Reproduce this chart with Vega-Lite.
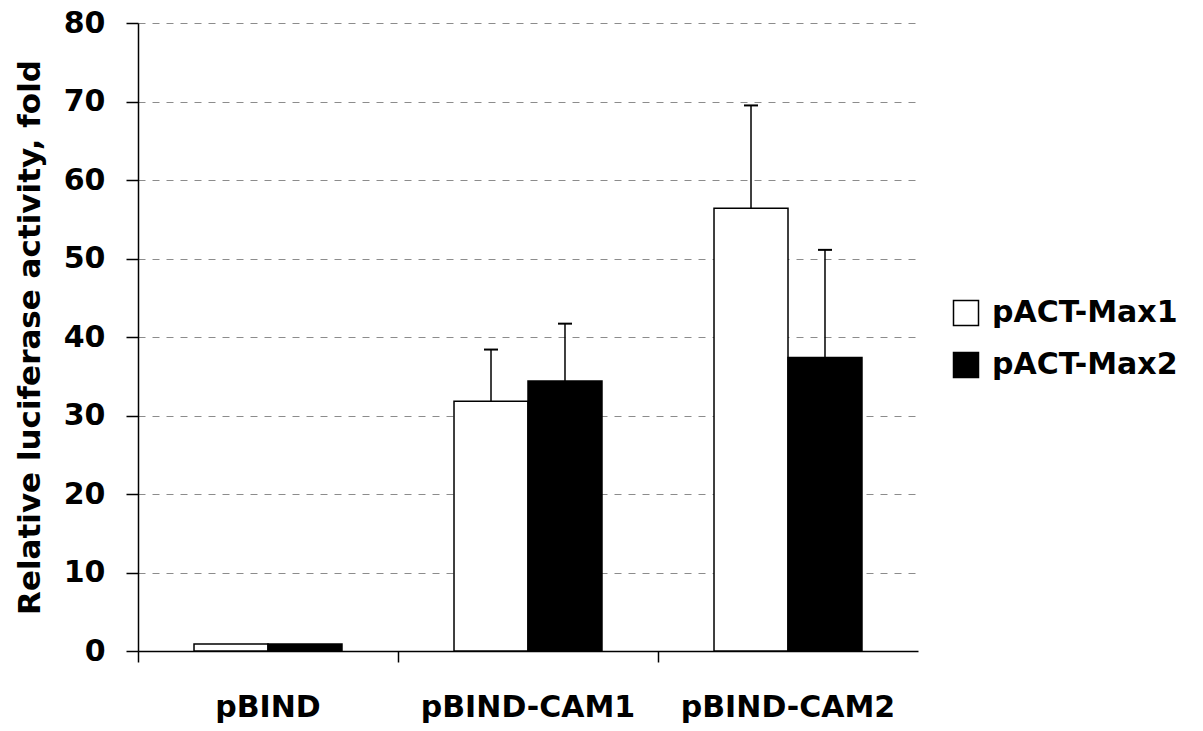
{
  "$schema": "https://vega.github.io/schema/vega-lite/v6.json",
  "width": 780,
  "height": 628,
  "autosize": "none",
  "padding": {"left": 138, "top": 23, "right": 285, "bottom": 80},
  "background": "white",
  "config": {
    "font": "DejaVu Sans",
    "view": {"stroke": null},
    "axis": {
      "domainColor": "black",
      "domainWidth": 1.5,
      "tickColor": "black",
      "tickWidth": 1.5,
      "labelColor": "black",
      "titleColor": "black",
      "labelFont": "DejaVu Sans",
      "titleFont": "DejaVu Sans",
      "labelFontWeight": "bold",
      "titleFontWeight": "bold",
      "labelFontSize": 30,
      "titleFontSize": 31,
      "labelLimit": 0
    }
  },
  "data": {
    "values": [
      {"construct": "pBIND", "series": "pACT-Max1", "value": 0.9, "upper": null},
      {"construct": "pBIND", "series": "pACT-Max2", "value": 0.9, "upper": null},
      {"construct": "pBIND-CAM1", "series": "pACT-Max1", "value": 31.8, "upper": 38.4},
      {"construct": "pBIND-CAM1", "series": "pACT-Max2", "value": 34.4, "upper": 41.7},
      {"construct": "pBIND-CAM2", "series": "pACT-Max1", "value": 56.4, "upper": 69.5},
      {"construct": "pBIND-CAM2", "series": "pACT-Max2", "value": 37.4, "upper": 51.1}
    ]
  },
  "encoding": {
    "x": {
      "field": "construct",
      "type": "nominal",
      "sort": ["pBIND", "pBIND-CAM1", "pBIND-CAM2"],
      "scale": {"paddingInner": 0, "paddingOuter": 0},
      "axis": {
        "title": null,
        "labelAngle": 0,
        "bandPosition": 0,
        "tickSize": 11,
        "labelPadding": 30,
        "grid": false
      }
    },
    "xOffset": {
      "field": "series",
      "type": "nominal",
      "sort": ["pACT-Max1", "pACT-Max2"],
      "scale": {"paddingInner": 0, "paddingOuter": 0.757}
    }
  },
  "layer": [
    {
      "mark": {"type": "bar", "stroke": "black", "strokeWidth": 1.5},
      "encoding": {
        "y": {
          "field": "value",
          "type": "quantitative",
          "scale": {"domain": [0, 80], "nice": false},
          "axis": {
            "title": "Relative luciferase activity, fold",
            "values": [0, 10, 20, 30, 40, 50, 60, 70, 80],
            "tickSize": 12,
            "labelPadding": 21,
            "titlePadding": 17,
            "grid": true,
            "gridColor": "#8c8c8c",
            "gridDash": [7, 7],
            "gridWidth": 1
          }
        },
        "fill": {
          "field": "series",
          "type": "nominal",
          "scale": {"domain": ["pACT-Max1", "pACT-Max2"], "range": ["white", "black"]},
          "legend": {
            "title": null,
            "orient": "none",
            "legendX": 813,
            "legendY": 275,
            "symbolType": "square",
            "symbolSize": 625,
            "symbolStrokeColor": "black",
            "symbolStrokeWidth": 1.5,
            "labelFont": "DejaVu Sans",
            "labelFontWeight": "bold",
            "labelFontSize": 30,
            "labelColor": "black",
            "labelOffset": 11,
            "labelLimit": 0,
            "rowPadding": 20
          }
        }
      }
    },
    {
      "transform": [{"filter": "isValid(datum.upper)"}],
      "mark": {"type": "rule", "strokeWidth": 1.5, "color": "black"},
      "encoding": {
        "y": {"field": "value", "type": "quantitative"},
        "y2": {"field": "upper"}
      }
    },
    {
      "transform": [{"filter": "isValid(datum.upper)"}],
      "mark": {"type": "tick", "thickness": 2, "size": 14, "color": "black", "opacity": 1},
      "encoding": {
        "y": {"field": "upper", "type": "quantitative"}
      }
    }
  ]
}
